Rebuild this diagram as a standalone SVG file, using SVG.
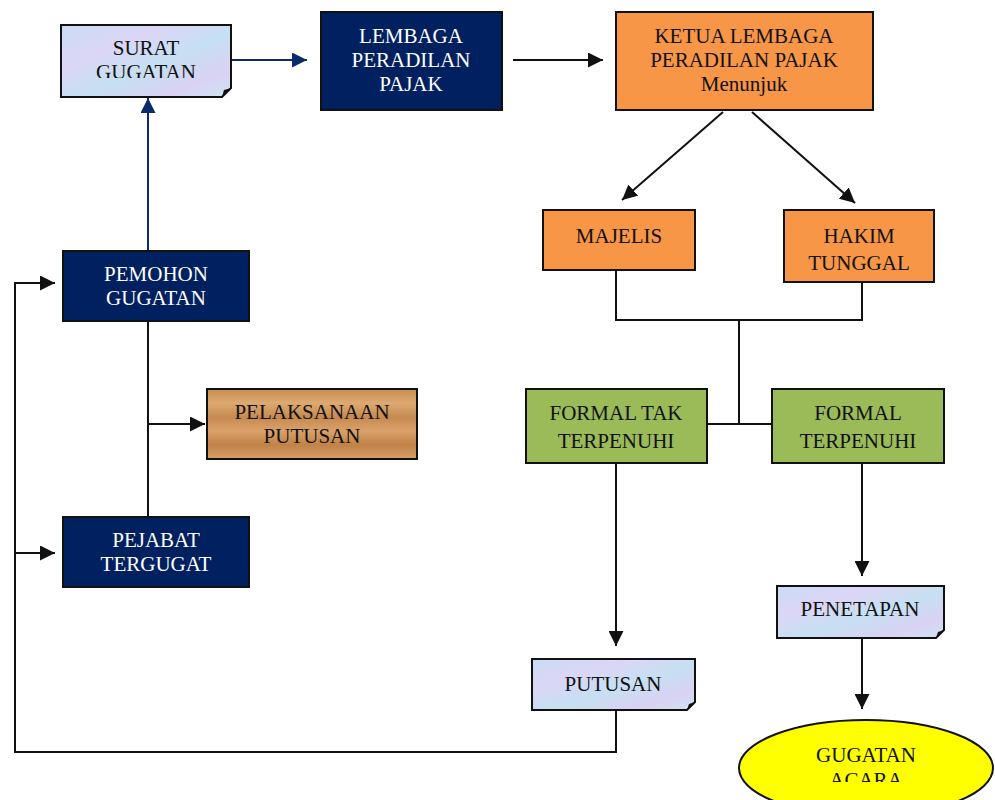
<svg xmlns="http://www.w3.org/2000/svg" width="995" height="800" viewBox="0 0 995 800">
<style>
.t{font-family:"Liberation Serif","Times New Roman",serif;font-size:21px;text-anchor:middle}
.w{fill:#ffffff}
.k{fill:#111111}
.navy{fill:#002060;stroke:#111;stroke-width:2}
.org{fill:#F79646;stroke:#111;stroke-width:2}
.grn{fill:#9BBB59;stroke:#111;stroke-width:2}
.note{fill:url(#paper);stroke:#111;stroke-width:2}
.ln{fill:none;stroke:#111;stroke-width:2}
.lnb{fill:none;stroke:#0b2a6b;stroke-width:2}
</style>
<defs>
<linearGradient id="paper" x1="0" y1="0" x2="1" y2="1">
<stop offset="0" stop-color="#c9dcf3"/>
<stop offset="0.3" stop-color="#dcd6f6"/>
<stop offset="0.55" stop-color="#c6e0f2"/>
<stop offset="0.8" stop-color="#d9d2f3"/>
<stop offset="1" stop-color="#cfe4f4"/>
</linearGradient>
<linearGradient id="wood" x1="0" y1="0" x2="0" y2="1">
<stop offset="0" stop-color="#c98c50"/>
<stop offset="0.2" stop-color="#ddaa72"/>
<stop offset="0.4" stop-color="#c68a4f"/>
<stop offset="0.6" stop-color="#d9a169"/>
<stop offset="0.8" stop-color="#c08247"/>
<stop offset="1" stop-color="#d5a067"/>
</linearGradient>
<marker id="ak" viewBox="0 0 10 10" refX="10" refY="5" markerWidth="15" markerHeight="15" markerUnits="userSpaceOnUse" orient="auto">
<path d="M0,0 L10,5 L0,10 z" fill="#111"/>
</marker>
<marker id="ab" viewBox="0 0 10 10" refX="10" refY="5" markerWidth="15" markerHeight="15" markerUnits="userSpaceOnUse" orient="auto">
<path d="M0,0 L10,5 L0,10 z" fill="#0b2a6b"/>
</marker>
<clipPath id="c1"><rect x="61" y="25" width="170" height="53"/></clipPath>
<clipPath id="c2"><rect x="738" y="719" width="256" height="63"/></clipPath>
</defs>

<g id="connectors">
<path class="lnb" d="M231,60 H307" marker-end="url(#ab)"/>
<path class="lnb" d="M148,251 V98" marker-end="url(#ab)"/>
<path class="ln" d="M513,60 H603" marker-end="url(#ak)"/>
<path class="ln" d="M723,112 L622,200" marker-end="url(#ak)"/>
<path class="ln" d="M752,112 L855,203" marker-end="url(#ak)"/>
<path class="ln" d="M616,270 V320 H862 V282"/>
<path class="ln" d="M739,320 V424"/>
<path class="ln" d="M707,424 H772"/>
<path class="ln" d="M616,463 V646" marker-end="url(#ak)"/>
<path class="ln" d="M862,463 V576" marker-end="url(#ak)"/>
<path class="ln" d="M862,638 V709" marker-end="url(#ak)"/>
<path class="ln" d="M148,321 V517"/>
<path class="ln" d="M148,424 H205" marker-end="url(#ak)"/>
<path class="ln" d="M616,710 V752 H15 V283 H55" marker-end="url(#ak)"/>
<path class="ln" d="M15,553 H55" marker-end="url(#ak)"/>
</g>

<g id="surat-gugatan">
<path class="note" d="M61,25 H231 V88 L222,97 H61 Z"/>
<path d="M222,97 L224,90 L231,88 Z" fill="#111"/>
<g clip-path="url(#c1)">
<text class="t k" x="146" y="55">SURAT</text>
<text class="t k" x="146" y="79">GUGATAN</text>
</g>
</g>

<g id="lembaga-peradilan-pajak">
<rect class="navy" x="321" y="12" width="181" height="98"/>
<text class="t w" x="411" y="43">LEMBAGA</text>
<text class="t w" x="411" y="67">PERADILAN</text>
<text class="t w" x="411" y="91">PAJAK</text>
</g>

<g id="ketua-lembaga">
<rect class="org" x="616" y="12" width="257" height="98"/>
<text class="t k" x="744" y="43">KETUA LEMBAGA</text>
<text class="t k" x="744" y="67">PERADILAN PAJAK</text>
<text class="t k" x="744" y="91">Menunjuk</text>
</g>

<g id="majelis">
<rect class="org" x="543" y="210" width="152" height="60"/>
<text class="t k" x="619" y="243">MAJELIS</text>
</g>

<g id="hakim-tunggal">
<rect class="org" x="784" y="210" width="150" height="72"/>
<text class="t k" x="859" y="243">HAKIM</text>
<text class="t k" x="859" y="270">TUNGGAL</text>
</g>

<g id="formal-tak-terpenuhi">
<rect class="grn" x="526" y="389" width="181" height="74"/>
<text class="t k" x="616" y="420">FORMAL TAK</text>
<text class="t k" x="616" y="448">TERPENUHI</text>
</g>

<g id="formal-terpenuhi">
<rect class="grn" x="772" y="389" width="172" height="74"/>
<text class="t k" x="858" y="420">FORMAL</text>
<text class="t k" x="858" y="448">TERPENUHI</text>
</g>

<g id="pemohon-gugatan">
<rect class="navy" x="63" y="251" width="186" height="70"/>
<text class="t w" x="156" y="281">PEMOHON</text>
<text class="t w" x="156" y="305">GUGATAN</text>
</g>

<g id="pelaksanaan-putusan">
<rect x="207" y="389" width="210" height="70" fill="url(#wood)" stroke="#111" stroke-width="2"/>
<text class="t k" x="312" y="419">PELAKSANAAN</text>
<text class="t k" x="312" y="443">PUTUSAN</text>
</g>

<g id="pejabat-tergugat">
<rect class="navy" x="63" y="517" width="186" height="70"/>
<text class="t w" x="156" y="547">PEJABAT</text>
<text class="t w" x="156" y="571">TERGUGAT</text>
</g>

<g id="putusan">
<path class="note" d="M532,659 H695 V702 L687,710 H532 Z"/>
<path d="M687,710 L689,704 L695,702 Z" fill="#111"/>
<text class="t k" x="613" y="691">PUTUSAN</text>
</g>

<g id="penetapan">
<path class="note" d="M777,586 H944 V630 L936,638 H777 Z"/>
<path d="M936,638 L938,632 L944,630 Z" fill="#111"/>
<text class="t k" x="860" y="616">PENETAPAN</text>
</g>

<g id="gugatan-acara">
<ellipse cx="866" cy="768" rx="127" ry="48" fill="#FFFF00" stroke="#111" stroke-width="2"/>
<g clip-path="url(#c2)">
<text class="t k" x="866" y="762">GUGATAN</text>
<text class="t k" x="866" y="787">ACARA</text>
</g>
</g>
</svg>
